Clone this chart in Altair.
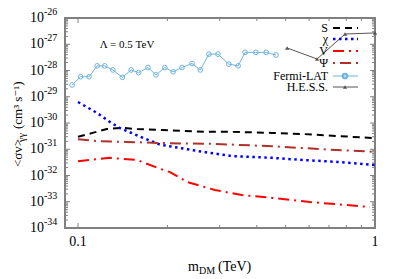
import altair as alt
import pandas as pd

# ---------------- data ----------------
mass_S = [0.100, 0.112, 0.125, 0.141, 0.158, 0.193, 0.268, 0.330, 0.450, 0.573, 0.745, 1.0]
sv_S = [3.0e-31, 4.2e-31, 5.9e-31, 6.5e-31, 5.9e-31, 5.4e-31, 4.6e-31, 4.6e-31, 4.2e-31, 3.8e-31, 3.2e-31, 2.65e-31]

mass_chi = [0.100, 0.116, 0.128, 0.138, 0.162, 0.189, 0.254, 0.330, 0.450, 0.573, 0.745, 1.0]
sv_chi = [6.3e-30, 2.4e-30, 1.1e-30, 6.5e-31, 3.0e-31, 1.5e-31, 8.5e-32, 5.5e-32, 4.7e-32, 3.9e-32, 3.3e-32, 2.5e-32]

mass_V = [0.100, 0.128, 0.158, 0.189, 0.204, 0.234, 0.289, 0.356, 0.450, 0.604, 0.962]
sv_V = [3.5e-32, 4.7e-32, 3.9e-32, 1.8e-32, 1.35e-32, 5.6e-33, 2.8e-33, 1.8e-33, 1.4e-33, 9.8e-34, 6.3e-34]

mass_Psi = [0.100, 0.119, 0.146, 0.200, 0.289, 0.450, 0.668, 1.0]
sv_Psi = [2.4e-31, 2.0e-31, 1.9e-31, 1.7e-31, 1.6e-31, 1.3e-31, 1.0e-31, 8.0e-32]

mass_fermi = [0.0955, 0.102, 0.109, 0.116, 0.123, 0.131, 0.141, 0.151, 0.160, 0.172, 0.183, 0.196,
              0.209, 0.224, 0.242, 0.258, 0.276, 0.296, 0.322, 0.346, 0.365, 0.397, 0.430, 0.464]
sv_fermi = [2.8e-29, 5.8e-29, 5.8e-29, 1.5e-28, 1.5e-28, 1.05e-28, 5.5e-29, 1.05e-28, 8.3e-29, 1.3e-28,
            6.8e-29, 1.3e-28, 8.9e-29, 1.3e-28, 1.85e-28, 1.05e-28, 4.2e-28, 4.2e-28, 1.75e-28, 1.5e-28,
            4.9e-28, 4.9e-28, 4.9e-28, 3.9e-28]

mass_hess = [0.506, 0.638, 0.793, 1.0]
sv_hess = [7.2e-28, 2.75e-28, 2.45e-27, 2.7e-27]

y_decades = [1e-26, 1e-27, 1e-28, 1e-29, 1e-30, 1e-31, 1e-32, 1e-33, 1e-34]
y_exponents = ["-26", "-27", "-28", "-29", "-30", "-31", "-32", "-33", "-34"]
x_major = [0.1, 1.0]
x_major_labels = ["0.1", "1"]
x_minor = [0.2, 0.3, 0.4, 0.5, 0.6, 0.7, 0.8, 0.9]

legend_names = ["S", "χ", "V", "Ψ", "Fermi-LAT", "H.E.S.S."]

# ---------------- styling ----------------
W, H = 310, 210
SERIF = "'Liberation Serif', 'Times New Roman', 'DejaVu Serif', serif"
AX = "#808080"
xs = alt.Scale(type="log", domain=[0.0904, 1.0], nice=False)
ys = alt.Scale(type="log", domain=[1e-34, 1e-26], nice=False)
X = alt.X("m:Q", scale=xs, axis=None)
Y = alt.Y("v:Q", scale=ys, axis=None)

y_minor = [k * d for d in y_decades[1:] for k in range(2, 10)]

layers = []

# ticks (inward, all four sides)
dfx_maj = pd.DataFrame({"m": x_major})
dfx_min = pd.DataFrame({"m": x_minor})
dfy_maj = pd.DataFrame({"v": y_decades})
dfy_min = pd.DataFrame({"v": y_minor})
for df, ln in [(dfx_maj, 5), (dfx_min, 3)]:
    layers.append(alt.Chart(df).mark_rule(color=AX, strokeWidth=1).encode(
        x=X, y=alt.value(H), y2=alt.value(H - ln)))
    layers.append(alt.Chart(df).mark_rule(color=AX, strokeWidth=1).encode(
        x=X, y=alt.value(0), y2=alt.value(ln)))
for df, ln in [(dfy_maj, 5), (dfy_min, 3)]:
    layers.append(alt.Chart(df).mark_rule(color=AX, strokeWidth=1).encode(
        y=Y, x=alt.value(0), x2=alt.value(ln)))
    layers.append(alt.Chart(df).mark_rule(color=AX, strokeWidth=1).encode(
        y=Y, x=alt.value(W), x2=alt.value(W - ln)))

# tick labels
dfy_lab = pd.DataFrame({"v": y_decades, "e": y_exponents})
layers.append(alt.Chart(dfy_lab).mark_text(font=SERIF, fontSize=14, align="right", baseline="middle",
                                           color="black").encode(
    y=Y, x=alt.value(-21), text=alt.value("10")))
layers.append(alt.Chart(dfy_lab).mark_text(font=SERIF, fontSize=10, align="left", baseline="middle",
                                           dy=-6, color="black").encode(
    y=Y, x=alt.value(-21), text="e:N"))
dfx_lab = pd.DataFrame({"m": x_major, "t": x_major_labels})
layers.append(alt.Chart(dfx_lab).mark_text(font=SERIF, fontSize=14, baseline="middle",
                                           color="black").encode(
    x=X, y=alt.value(H + 14), text="t:N"))

# axis titles
def txt(s, x, y, size=13, align="left", angle=0, baseline="alphabetic"):
    return alt.Chart(pd.DataFrame({"a": [0]})).mark_text(
        font=SERIF, fontSize=size, align=align, angle=angle, baseline=baseline, color="black"
    ).encode(x=alt.value(x), y=alt.value(y), text=alt.value(s))

layers.append(txt("m", 123, 253, 14))
layers.append(txt("DM", 134, 256, 10))
layers.append(txt("(TeV)", 153, 253, 14))

layers.append(txt("<σv>", -43, 149, 13, angle=270))
layers.append(txt("γγ", -40, 124, 10, angle=270))
layers.append(txt("(cm³ s⁻¹)", -43, 111, 13, angle=270))

layers.append(txt("Λ = 0.5 TeV", 62, 27, 11, align="center", baseline="middle"))

# curves
styles = {
    "S": dict(color="black", strokeDash=[7, 5], strokeWidth=2),
    "χ": dict(color="#0000ff", strokeDash=[2.5, 3.5], strokeWidth=2.5),
    "V": dict(color="#ff0000", strokeDash=[11, 5, 2, 5], strokeWidth=2),
    "Ψ": dict(color="#b0302a", strokeDash=[11, 5, 2, 5], strokeWidth=2),
}
series = {"S": (mass_S, sv_S), "χ": (mass_chi, sv_chi), "V": (mass_V, sv_V), "Ψ": (mass_Psi, sv_Psi)}
for name, (m, v) in series.items():
    layers.append(alt.Chart(pd.DataFrame({"m": m, "v": v})).mark_line(
        clip=True, **styles[name]).encode(x=X, y=Y))

FERMI = "#6fb3dd"
HESS = "#555555"
df_f = pd.DataFrame({"m": mass_fermi, "v": sv_fermi})
layers.append(alt.Chart(df_f).mark_line(color=FERMI, strokeWidth=1).encode(x=X, y=Y))
layers.append(alt.Chart(df_f).mark_point(shape="circle", color=FERMI, size=22, strokeWidth=1,
                                          filled=False, opacity=1).encode(x=X, y=Y))
df_h = pd.DataFrame({"m": mass_hess, "v": sv_hess})
layers.append(alt.Chart(df_h).mark_line(color=HESS, strokeWidth=1).encode(x=X, y=Y))
layers.append(alt.Chart(df_h).mark_point(shape="triangle-up", color=HESS, size=18, filled=True,
                                          opacity=1).encode(x=X, y=Y))

# legend
leg_y = [10, 21, 33, 45, 58, 69]
for name, ly in zip(legend_names, leg_y):
    layers.append(txt(name, 263, ly, 12, align="right", baseline="middle"))
for name, ly in zip(["S", "χ", "V", "Ψ"], leg_y[:4]):
    st = dict(styles[name])
    if name == "Ψ":
        st["strokeDashOffset"] = 16
    layers.append(alt.Chart(pd.DataFrame({"a": [0]})).mark_rule(**st).encode(
        x=alt.value(268), x2=alt.value(293), y=alt.value(ly)))
layers.append(alt.Chart(pd.DataFrame({"a": [0]})).mark_rule(color=FERMI, strokeWidth=1).encode(
    x=alt.value(268), x2=alt.value(293), y=alt.value(58)))
layers.append(alt.Chart(pd.DataFrame({"a": [0]})).mark_point(shape="circle", color=FERMI, size=22,
                                                             filled=False, opacity=1).encode(
    x=alt.value(280), y=alt.value(58)))
layers.append(alt.Chart(pd.DataFrame({"a": [0]})).mark_rule(color=HESS, strokeWidth=1).encode(
    x=alt.value(268), x2=alt.value(293), y=alt.value(69)))
layers.append(alt.Chart(pd.DataFrame({"a": [0]})).mark_point(shape="triangle-up", color=HESS, size=18,
                                                             filled=True, opacity=1).encode(
    x=alt.value(280), y=alt.value(69)))

chart = alt.layer(*layers).properties(
    width=W, height=H,
    padding={"left": 57, "top": 10, "right": 16, "bottom": 56},
    autosize=alt.AutoSizeParams(type="none"),
    background="white",
).configure_view(stroke=AX, strokeWidth=2)

chart.save("out.html", embed_options={"renderer": "svg", "actions": False})
